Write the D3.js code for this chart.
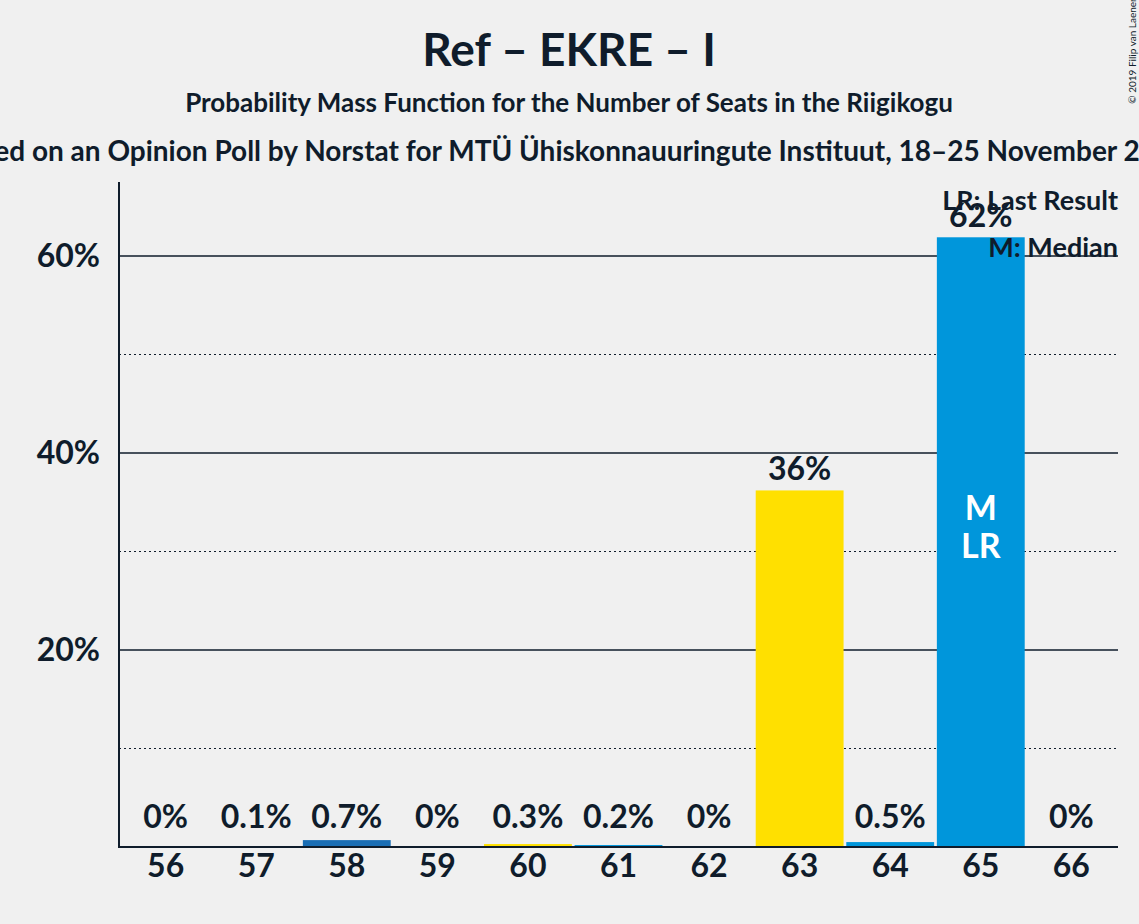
<!DOCTYPE html>
<html><head><meta charset="utf-8">
<script src="https://cdn.jsdelivr.net/npm/d3@7"></script>
<style>body{margin:0;background:#f0f0f0}svg{font-family:Lato,sans-serif;font-weight:bold;fill:#0f1c2b}</style>
</head><body>
<script>
// seats and probabilities (%)
var seats = [56, 57, 58, 59, 60, 61, 62, 63, 64, 65, 66];
var probs = [0, 0.1, 0.7, 0, 0.3, 0.2, 0, 36.2, 0.5, 61.9, 0];
var labels = ["0%", "0.1%", "0.7%", "0%", "0.3%", "0.2%", "0%", "36%", "0.5%", "62%", "0%"];
var colors = ["#0096db", "#0096db", "#1a6eb5", "#0096db", "#ffe000", "#0096db", "#0096db", "#ffe000", "#0096db", "#0096db", "#0096db"];
var yTicks = [20, 40, 60];
var yMinor = [10, 30, 50];
var medianSeat = 65, lastSeat = 65;

var W = 1139, H = 924, ink = "#0f1c2b";
var svg = d3.select("body").append("svg").attr("width", W).attr("height", H);
svg.append("rect").attr("width", W).attr("height", H).attr("fill", "#f0f0f0");

var x = d3.scaleBand().domain(seats).range([119, 1118]).paddingInner(0.03).paddingOuter(0.03);
var y = d3.scaleLinear().domain([0, 60]).range([847, 256]);

var g = svg.append("g");
g.selectAll(".minor").data(yMinor).enter().append("line")
  .attr("x1", 119).attr("x2", 1118).attr("y1", y).attr("y2", y)
  .attr("stroke", ink).attr("stroke-dasharray", "2,3").attr("stroke-width", 1.2);
g.selectAll(".major").data(yTicks).enter().append("line")
  .attr("x1", 119).attr("x2", 1118).attr("y1", y).attr("y2", y)
  .attr("stroke", ink).attr("stroke-width", 1.5);

g.selectAll(".bar").data(seats).enter().append("rect")
  .attr("x", function(d) { return x(d); })
  .attr("width", x.bandwidth())
  .attr("y", function(d, i) { return y(probs[i]); })
  .attr("height", function(d, i) { return 847 - y(probs[i]); })
  .attr("fill", function(d, i) { return colors[i]; });

g.selectAll(".val").data(seats).enter().append("text")
  .attr("x", function(d) { return x(d) + x.bandwidth() / 2; })
  .attr("y", function(d, i) { return Math.min(y(probs[i]) - 10, 828); })
  .attr("text-anchor", "middle").attr("font-size", 32).attr("fill", ink)
  .text(function(d, i) { return labels[i]; });

var cx = x(medianSeat) + x.bandwidth() / 2;
svg.append("text").attr("x", cx).attr("y", 520).attr("text-anchor", "middle").attr("font-size", 34).attr("fill", "#fff").text("M");
svg.append("text").attr("x", x(lastSeat) + x.bandwidth() / 2).attr("y", 558).attr("text-anchor", "middle").attr("font-size", 34).attr("fill", "#fff").text("LR");

// axes
svg.append("line").attr("x1", 119).attr("x2", 119).attr("y1", 182).attr("y2", 848).attr("stroke", ink).attr("stroke-width", 2);
svg.append("line").attr("x1", 118).attr("x2", 1118).attr("y1", 847).attr("y2", 847).attr("stroke", ink).attr("stroke-width", 2);
svg.selectAll(".yl").data(yTicks).enter().append("text")
  .attr("x", 100).attr("y", function(d) { return y(d) + 11; }).attr("text-anchor", "end")
  .attr("font-size", 32).attr("fill", ink).text(function(d) { return d + "%"; });
svg.selectAll(".xl").data(seats).enter().append("text")
  .attr("x", function(d) { return x(d) + x.bandwidth() / 2; }).attr("y", 877).attr("text-anchor", "middle")
  .attr("font-size", 32).attr("fill", ink).text(function(d) { return d; });

// legend
svg.append("text").attr("x", 1118).attr("y", 210).attr("text-anchor", "end").attr("font-size", 27).attr("fill", ink).text("LR: Last Result");
svg.append("text").attr("x", 1118).attr("y", 257).attr("text-anchor", "end").attr("font-size", 27).attr("fill", ink).text("M: Median");

// titles
svg.append("text").attr("x", 569).attr("y", 66).attr("text-anchor", "middle").attr("font-size", 46).attr("fill", ink).text("Ref – EKRE – I");
svg.append("text").attr("x", 569).attr("y", 112).attr("text-anchor", "middle").attr("font-size", 26).attr("fill", ink).text("Probability Mass Function for the Number of Seats in the Riigikogu");
svg.append("text").attr("x", 569).attr("y", 161).attr("text-anchor", "middle").attr("font-size", 28).attr("fill", ink).text("Based on an Opinion Poll by Norstat for MTÜ Ühiskonnauuringute Instituut, 18–25 November 2019");
svg.append("text").attr("transform", "translate(1136,50) rotate(-90)").attr("text-anchor", "middle").attr("font-size", 10).attr("font-weight", "normal").attr("fill", ink).text("© 2019 Filip van Laenen");
</script>
</body></html>
